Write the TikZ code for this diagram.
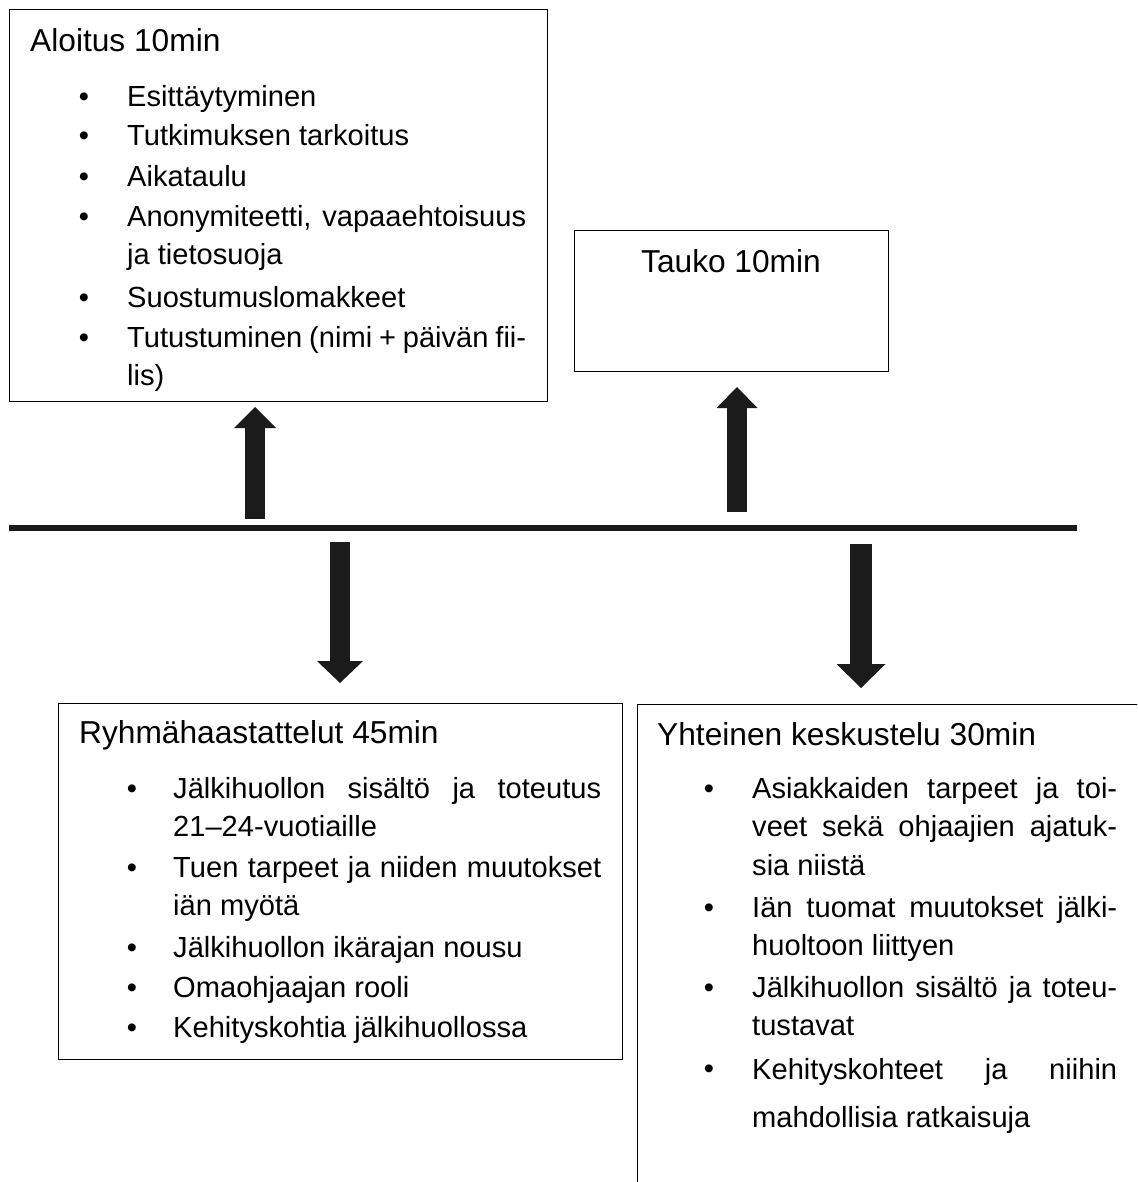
\documentclass[tikz,border=0pt]{standalone}
\usepackage{fontspec}
\setmainfont{Liberation Sans}
\usetikzlibrary{arrows.meta}
\newcommand\bodyfnt{\fontsize{29.1}{40}\selectfont}
\newcommand\titlefnt{\fontsize{31.7}{40}\selectfont}
\newcommand\jl[2]{\hbox to #1pt{\spaceskip=.278em plus 1fil minus .05em\relax #2}}
\definecolor{arrowc}{HTML}{1B1B1B}
\tikzset{
  box/.style={draw=black, line width=1.4pt, anchor=north west, inner sep=0pt},
  ttl/.style={anchor=base west, inner sep=0pt, font=\titlefnt},
  txt/.style={anchor=base west, inner sep=0pt, font=\bodyfnt},
  bul/.style={anchor=base, inner sep=0pt, font=\bodyfnt},
  blockarrow/.style={draw=arrowc, line width=#1},
  timeline/.style={draw=arrowc, line width=6pt},
}
\begin{document}
\begin{tikzpicture}[x=1pt, y=-1pt]
\useasboundingbox (0,0) rectangle (1137,1182);
\clip (0,0) rectangle (1137,1182);
% boxes
\node[box, minimum width=538pt, minimum height=392pt] (aloitus) at (9,9) {};
\node[box, minimum width=314pt, minimum height=141pt] (tauko) at (574,230) {};
\node[box, minimum width=564pt, minimum height=356pt] (ryhma) at (58,703) {};
\node[box, minimum width=520pt, minimum height=500pt] (yhteinen) at (637,704) {};
% Aloitus
\node[ttl] (t1) at (30,52) {Aloitus 10min};
\foreach \y/\n in {107/a1,146/a2,187/a3,227/a4,307/a6,347/a7}
  \node[bul] (b\n) at (84,\y) {\textbullet};
\node[txt] (a1) at (127,107) {Esittäytyminen};
\node[txt] (a2) at (127,146) {Tutkimuksen tarkoitus};
\node[txt] (a3) at (127,187) {Aikataulu};
\node[txt] (a4) at (127,227) {\jl{399}{Anonymiteetti, vapaaehtoisuus}};
\node[txt] (a5) at (127,265) {ja tietosuoja};
\node[txt] (a6) at (127,307) {Suostumuslomakkeet};
\node[txt] (a7) at (127,347) {\jl{399}{Tutustuminen (nimi + päivän fii-}};
\node[txt] (a8) at (127,385) {lis)};
% Tauko
\node[font=\titlefnt, anchor=base, inner sep=0pt] (t2) at (731,272) {Tauko 10min};
% Ryhmahaastattelut
\node[ttl] (t3) at (79,743) {Ryhmähaastattelut 45min};
\foreach \y/\n in {798/r1,877/r3,957/r5,997/r6,1037/r7}
  \node[bul] (b\n) at (132,\y) {\textbullet};
\node[txt] (r1) at (173,798) {\jl{428}{Jälkihuollon sisältö ja toteutus}};
\node[txt] (r2) at (173,836) {21–24-vuotiaille};
\node[txt] (r3) at (173,877) {\jl{428}{Tuen tarpeet ja niiden muutokset}};
\node[txt] (r4) at (173,915) {iän myötä};
\node[txt] (r5) at (173,957) {Jälkihuollon ikärajan nousu};
\node[txt] (r6) at (173,997) {Omaohjaajan rooli};
\node[txt] (r7) at (173,1037) {Kehityskohtia jälkihuollossa};
% Yhteinen
\node[ttl] (t4) at (657,745) {Yhteinen keskustelu 30min};
\foreach \y/\n in {798/y1,917/y4,997/y6,1078/y8}
  \node[bul] (b\n) at (709,\y) {\textbullet};
\node[txt] (y1) at (752,798) {\jl{365}{Asiakkaiden tarpeet ja toi-}};
\node[txt] (y2) at (752,836) {\jl{365}{veet sekä ohjaajien ajatuk-}};
\node[txt] (y3) at (752,875) {sia niistä};
\node[txt] (y4) at (752,917) {\jl{365}{Iän tuomat muutokset jälki-}};
\node[txt] (y5) at (752,955) {huoltoon liittyen};
\node[txt] (y6) at (752,997) {\jl{365}{Jälkihuollon sisältö ja toteu-}};
\node[txt] (y7) at (752,1035) {tustavat};
\node[txt] (y8) at (752,1079) {\jl{365}{Kehityskohteet ja niihin}};
\node[txt] (y9) at (752,1127) {mahdollisia ratkaisuja};
% timeline
\coordinate (lineL) at (9,528);
\coordinate (lineR) at (1077,528);
\draw[timeline] (lineL) -- (lineR);
% arrows
\coordinate (u1s) at (255,519); \coordinate (u1e) at (255,407);
\coordinate (u2s) at (737,512); \coordinate (u2e) at (737,387);
\coordinate (d1s) at (340,542); \coordinate (d1e) at (340,683);
\coordinate (d2s) at (861,544); \coordinate (d2e) at (861,688);
\draw[blockarrow=20pt, -{Triangle[length=21pt, width=42pt, line width=0pt]}] (u1s) -- (u1e);
\draw[blockarrow=20pt, -{Triangle[length=21pt, width=41pt, line width=0pt]}] (u2s) -- (u2e);
\draw[blockarrow=20pt, -{Triangle[length=22pt, width=46pt, line width=0pt]}] (d1s) -- (d1e);
\draw[blockarrow=22pt, -{Triangle[length=24pt, width=49pt, line width=0pt]}] (d2s) -- (d2e);
\end{tikzpicture}
\end{document}
